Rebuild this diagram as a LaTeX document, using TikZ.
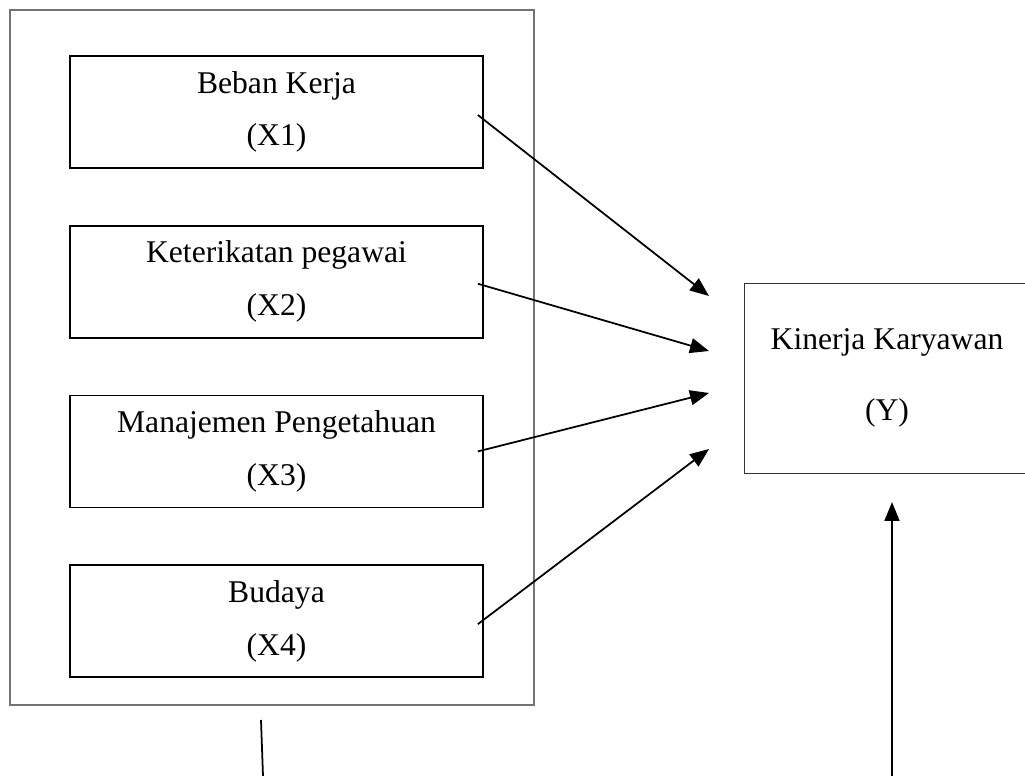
\documentclass[tikz,border=0pt]{standalone}
\usepackage{fontspec}
\setmainfont{Liberation Serif}
\usepackage{tikz}
\usetikzlibrary{arrows.meta,positioning}

\begin{document}
\begin{tikzpicture}[
    x=0.02cm, y=-0.02cm,
    node distance=1.12cm,
    box/.style={rectangle, draw, line width=1pt, minimum width=8.26cm, minimum height=2.24cm, align=center, font=\fontsize{18}{30}\selectfont},
    result/.style={rectangle, draw=black!80, line width=0.5pt, minimum width=5.72cm, minimum height=3.8cm, align=center, font=\fontsize{18}{40}\selectfont},
    frame/.style={draw=black!55, line width=0.6pt},
    arrow/.style={-{Triangle[length=0.38cm, width=0.3cm]}, line width=1pt}
]
    \useasboundingbox (0,0) rectangle (1025,776);
    \draw[frame] (10,10) rectangle (534,705);

    \node[box] (x1) at (276.5,112) {Beban Kerja\\(X1)};
    \node[box, below=of x1] (x2) {Keterikatan pegawai\\(X2)};
    \node[box, below=of x2] (x3) {Manajemen Pengetahuan\\(X3)};
    \node[box, below=of x3] (x4) {Budaya\\(X4)};
    \node[result] (y) at (887,378) {Kinerja Karyawan\\(Y)};

    \coordinate (t1) at (709,296);
    \coordinate (t2) at (709,351);
    \coordinate (t3) at (709,393);
    \coordinate (t4) at (709,449);
    \coordinate (b1) at (261,720);
    \coordinate (b2) at (263,776);
    \coordinate (b3) at (892,776);
    \coordinate (b4) at (892,502);

    \draw[arrow] ([xshift=-0.12cm, yshift=-0.06cm]x1.east) -- (t1);
    \draw[arrow] ([xshift=-0.12cm, yshift=-0.04cm]x2.east) -- (t2);
    \draw[arrow] ([xshift=-0.12cm]x3.east) -- (t3);
    \draw[arrow] ([xshift=-0.12cm, yshift=-0.06cm]x4.east) -- (t4);
    \draw[line width=1pt] (b1) -- (b2);
    \draw[arrow] (b3) -- (b4);
\end{tikzpicture}
\end{document}
